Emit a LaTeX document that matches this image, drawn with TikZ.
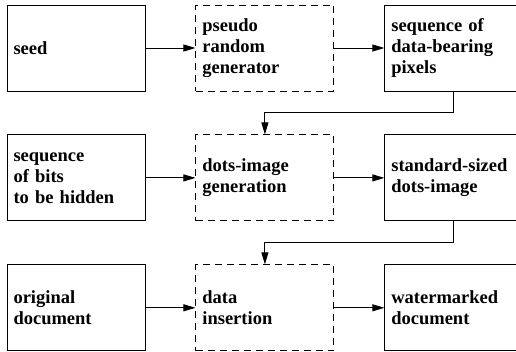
\documentclass[tikz,border=0pt]{standalone}
\usepackage{fontspec}
\setmainfont{Liberation Serif}
\usepackage{tikz}
\usetikzlibrary{positioning,arrows.meta}

\begin{document}
\begin{tikzpicture}[x=1pt,y=1pt,
    font=\fontsize{18.5}{21}\selectfont\bfseries,
    node distance=43pt and 50pt,
    box/.style={draw, line width=0.9pt, text width=125pt, inner sep=6.5pt,
                minimum height=86pt, align=left},
    proc/.style={box, dashed, dash pattern=on 7pt off 5pt},
    link/.style={line width=0.9pt, -{Triangle[length=12pt,width=7pt]}}
    ]
    \useasboundingbox (0,0) rectangle (516,351);
    \node[box] (seed) at (76,303) {seed};
    \node[proc, right=of seed] (prng) {pseudo\\random\\generator};
    \node[box, right=of prng] (pixels) {sequence of\\data-bearing\\pixels};
    \node[box, below=of seed] (bits) {sequence\\of bits\\to be hidden};
    \node[proc, right=of bits] (dotsgen) {dots-image\\generation};
    \node[box, right=of dotsgen] (dotsimg) {standard-sized\\dots-image};
    \node[box, below=of bits] (orig) {original\\document};
    \node[proc, right=of orig] (insert) {data\\insertion};
    \node[box, right=of insert] (wm) {watermarked\\document};
    \draw[link] (seed) -- (prng);
    \draw[link] (prng) -- (pixels);
    \draw[link] (bits) -- (dotsgen);
    \draw[link] (dotsgen) -- (dotsimg);
    \draw[link] (orig) -- (insert);
    \draw[link] (insert) -- (wm);
    \draw[link] (pixels.south) -- ++(0,-21.5) -| (dotsgen.north);
    \draw[link] (dotsimg.south) -- ++(0,-21.5) -| (insert.north);
\end{tikzpicture}
\end{document}
